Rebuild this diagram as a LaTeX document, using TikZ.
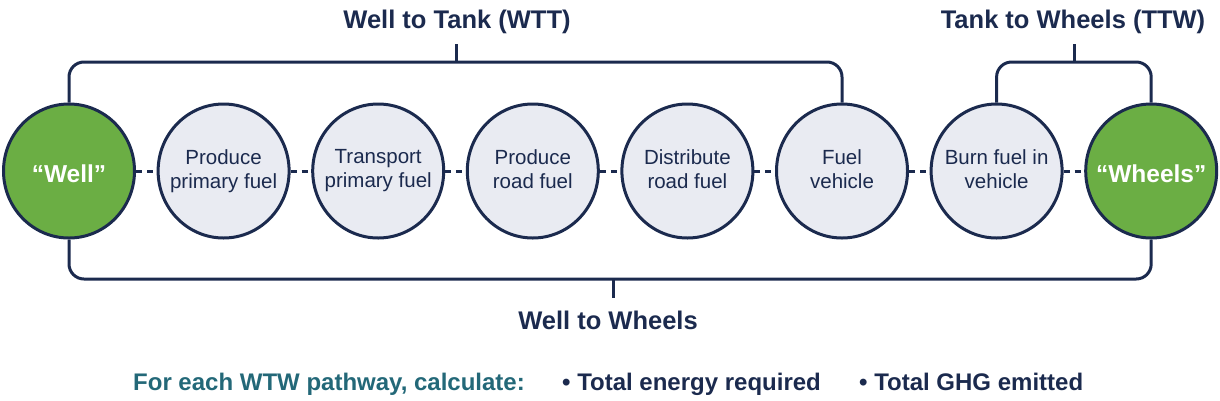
\documentclass[tikz,border=0pt]{standalone}
\usepackage{fontspec}
\setmainfont{Liberation Sans}
\usepackage{xcolor}
\usepackage{tikz}
\usetikzlibrary{shapes.geometric, positioning}
\definecolor{navy}{HTML}{1B2A4E}
\definecolor{leaf}{HTML}{6BAE44}
\definecolor{mist}{HTML}{E9EBF2}
\definecolor{tealtext}{HTML}{236878}
\tikzstyle{stage} = [ellipse, draw=navy, line width=3pt, fill=mist, minimum width=131pt, minimum height=134pt, inner xsep=-20pt, inner ysep=0pt, align=center, text=navy, font=\fontsize{20.5}{24}\selectfont, execute at begin node={\rule{0pt}{29pt}}, execute at end node={\vphantom{y}}]
\tikzstyle{terminal} = [stage, fill=leaf, text=white, font=\bfseries\fontsize{24.5}{28}\selectfont]
\tikzstyle{dashline} = [draw=navy, line width=3pt, dash pattern=on 6pt off 5pt]
\tikzstyle{bracket} = [draw=navy, line width=3pt, rounded corners=15pt]
\tikzstyle{heading} = [text=navy, font=\bfseries\fontsize{25.5}{28}\selectfont, inner sep=0pt]
\tikzstyle{summary} = [heading, font=\bfseries\fontsize{24}{28}\selectfont]

\begin{document}
\begin{tikzpicture}[x=1pt, y=-1pt, node distance=154.6pt]
   \useasboundingbox (0,0) rectangle (1220,400);
   \node (well) [terminal] at (69,171) {“Well”};
   \node (s1) [stage, right of=well] {Produce\\primary fuel};
   \node (s2) [stage, right of=s1] {Transport\\primary fuel};
   \node (s3) [stage, right of=s2] {Produce\\road fuel};
   \node (s4) [stage, right of=s3] {Distribute\\road fuel};
   \node (s5) [stage, right of=s4] {Fuel\\vehicle};
   \node (s6) [stage, right of=s5] {Burn fuel in\\vehicle};
   \node (wheels) [terminal, right of=s6] {“Wheels”};
   \draw [dashline] (well) -- (s1);
   \draw [dashline] (s1) -- (s2);
   \draw [dashline] (s2) -- (s3);
   \draw [dashline] (s3) -- (s4);
   \draw [dashline] (s4) -- (s5);
   \draw [dashline] (s5) -- (s6);
   \draw [dashline] (s6) -- (wheels);
   % brackets
   \coordinate (wttbar) at (456,62);
   \coordinate (wtttick) at (456,44);
   \coordinate (ttwbar) at (1074,62);
   \coordinate (ttwtick) at (1074,44);
   \coordinate (wtwbar) at (613,279);
   \coordinate (wtwtick) at (613,298);
   \draw [bracket] (well.north) |- (s5.north |- wttbar) -- (s5.north);
   \draw [bracket] (s6.north) |- (wheels.north |- ttwbar) -- (wheels.north);
   \draw [bracket] (well.south) |- (wheels.south |- wtwbar) -- (wheels.south);
   \draw [bracket] (wtttick) -- (wttbar);
   \draw [bracket] (ttwtick) -- (ttwbar);
   \draw [bracket] (wtwbar) -- (wtwtick);
   \node (wtt) [heading, anchor=base] at (457,28) {Well to Tank (WTT)};
   \node (ttw) [heading, anchor=base] at (1073,28) {Tank to Wheels (TTW)};
   \node (wtw) [heading, anchor=base] at (608,329) {Well to Wheels};
   % summary line
   \node (ask) [summary, text=tealtext, anchor=base] at (329,390) {For each WTW pathway, calculate:};
   \node (energy) [summary, anchor=base west] at (562,390) {• Total energy required};
   \node (ghg) [summary, anchor=base west] at (859,390) {• Total GHG emitted};
\end{tikzpicture}
\end{document}
